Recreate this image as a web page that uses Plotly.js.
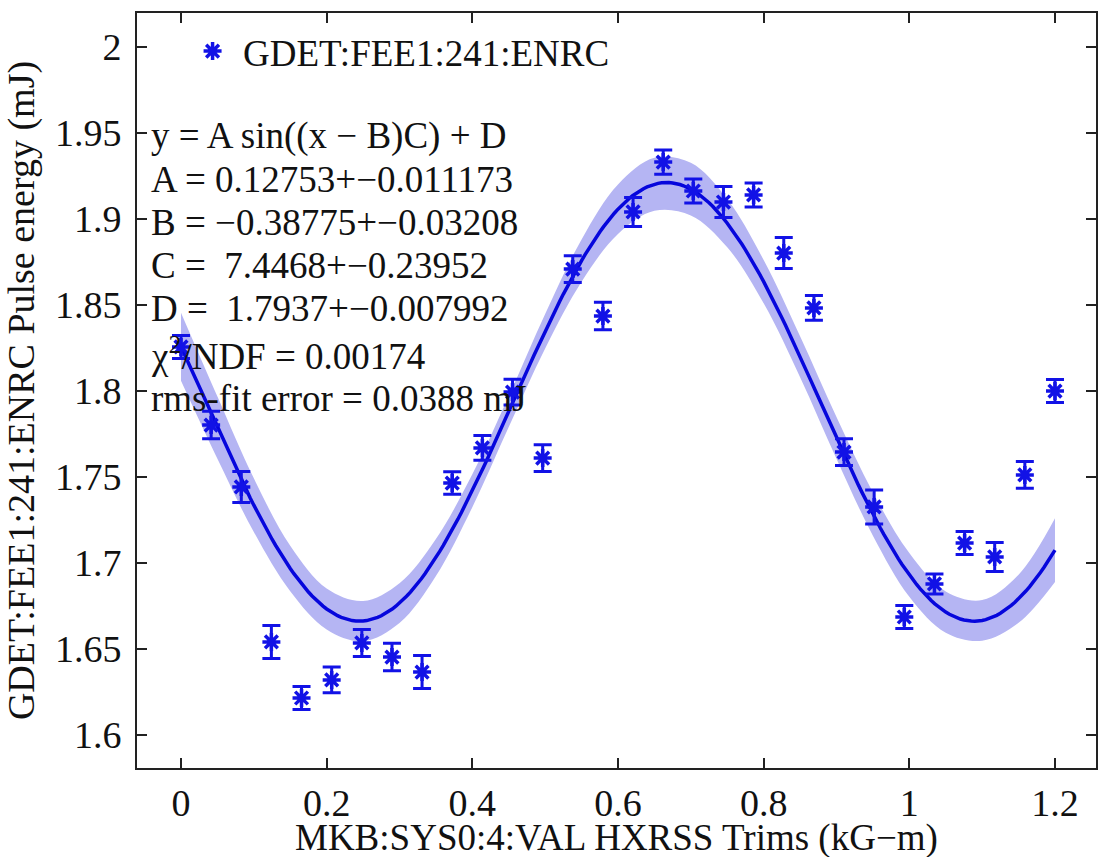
<!DOCTYPE html>
<html>
<head>
<meta charset="utf-8">
<script src="https://cdn.plot.ly/plotly-3.0.1.min.js"></script>
<style>
  html, body { margin: 0; padding: 0; background: #fff; }
  #chart { width: 1098px; height: 857px; }
</style>
</head>
<body>
<div id="chart"></div>
<script>
// HXRSS trim scan: measured pulse energy with error bars
const trimValues = [0, 0.0414, 0.0828, 0.1241, 0.1655, 0.2069, 0.2483, 0.2897, 0.3310, 0.3724,
                    0.4138, 0.4552, 0.4966, 0.5379, 0.5793, 0.6207, 0.6621, 0.7034, 0.7448, 0.7862,
                    0.8276, 0.8690, 0.9103, 0.9517, 0.9931, 1.0345, 1.0759, 1.1172, 1.1586, 1.2];
const pulseEnergy = [1.8256, 1.7802, 1.7442, 1.6541, 1.6215, 1.6320, 1.6535, 1.6453, 1.6366, 1.7465,
                     1.7669, 1.7994, 1.7610, 1.8709, 1.8436, 1.9041, 1.9331, 1.9163, 1.9099, 1.9140,
                     1.8802, 1.8483, 1.7645, 1.7326, 1.6686, 1.6878, 1.7116, 1.7035, 1.7512, 1.8000];
const energyError = [0.0067, 0.0080, 0.0090, 0.0096, 0.0067, 0.0075, 0.0078, 0.0080, 0.0096, 0.0065,
                     0.0072, 0.0075, 0.0078, 0.0078, 0.0080, 0.0084, 0.0070, 0.0070, 0.0090, 0.0070,
                     0.0090, 0.0072, 0.0078, 0.0099, 0.0067, 0.0058, 0.0067, 0.0084, 0.0078, 0.0067];

// Fit parameters y = A sin((x - B)C) + D
const fitA = 0.12753;
const fitB = -0.38775;
const fitC = 7.4468;
const fitD = 1.7937;

// Confidence band half-width along the fit
const bandX = [0, 0.05, 0.1, 0.15, 0.2, 0.25, 0.3, 0.35, 0.4, 0.45, 0.5, 0.55, 0.6,
               0.65, 0.7, 0.75, 0.8, 0.85, 0.9, 0.95, 1.0, 1.05, 1.1, 1.15, 1.2];
const bandHalf = [0.0198, 0.0181, 0.0156, 0.0132, 0.0119, 0.0117, 0.0116, 0.0108, 0.0096, 0.0090,
                  0.0100, 0.0123, 0.0144, 0.0154, 0.0153, 0.0140, 0.0126, 0.0119, 0.0121, 0.0126,
                  0.0127, 0.0120, 0.0118, 0.0140, 0.0185];

const legendName = 'GDET:FEE1:241:ENRC';
const xTitle = 'MKB:SYS0:4:VAL HXRSS Trims (kG\u2212m)';
const yTitle = 'GDET:FEE1:241:ENRC Pulse energy (mJ)';
const fitLines = [
  'y = A sin((x \u2212 B)C) + D',
  'A = 0.12753+\u22120.011173',
  'B = \u22120.38775+\u22120.03208',
  'C =  7.4468+\u22120.23952',
  'D =  1.7937+\u22120.007992',
  '\u03c7<sup>2</sup>/NDF = 0.00174',
  'rms-fit error = 0.0388 mJ'
];

const fitModel = x => fitA * Math.sin((x - fitB) * fitC) + fitD;

const fitX = [];
for (let i = 0; i <= 240; i++) fitX.push(i * 0.005);
const fitY = fitX.map(fitModel);

const bandLow = bandX.map((x, i) => fitModel(x) - bandHalf[i]);
const bandHigh = bandX.map((x, i) => fitModel(x) + bandHalf[i]);

const FONT = 'Liberation Serif, Times New Roman, serif';
const markBlue = '#1212e6';

const traces = [
  { x: bandX, y: bandLow, mode: 'lines', line: { width: 0, shape: 'spline' },
    hoverinfo: 'skip', showlegend: false },
  { x: bandX, y: bandHigh, mode: 'lines', line: { width: 0, shape: 'spline' },
    fill: 'tonexty', fillcolor: '#b5b5f3', hoverinfo: 'skip', showlegend: false },
  { x: fitX, y: fitY, mode: 'lines', line: { color: '#0606dc', width: 3.5 },
    showlegend: false },
  { x: trimValues, y: pulseEnergy, mode: 'markers', name: legendName,
    marker: { symbol: 'asterisk-open', size: 15, color: markBlue,
              line: { color: markBlue, width: 3.5 } },
    error_y: { type: 'data', array: energyError, visible: true,
               color: markBlue, thickness: 3, width: 9 } }
];

// Fit summary, one line per annotation
const lineY = [0.837, 0.779, 0.722, 0.665, 0.608, 0.549, 0.489];
const annotations = fitLines.map((t, i) => ({
  text: t, xref: 'paper', yref: 'paper', x: 0.012, y: lineY[i],
  xanchor: 'left', yanchor: 'middle', showarrow: false,
  font: { family: FONT, size: 37, color: '#111' }
}));

// x-axis title placed just under the tick labels
annotations.push({
  text: xTitle, xref: 'paper', yref: 'paper', x: 0.5, y: -0.093,
  xanchor: 'center', yanchor: 'middle', showarrow: false, borderpad: 0,
  font: { family: FONT, size: 37, color: '#111' }
});

const axisCommon = {
  showline: true, linecolor: '#222', linewidth: 2, mirror: 'ticks',
  ticks: 'inside', ticklen: 10, tickwidth: 2, tickcolor: '#222',
  showgrid: false, zeroline: false,
  tickfont: { family: FONT, size: 38, color: '#111' }
};

const layout = {
  width: 1098, height: 857,
  margin: { l: 137, r: 2, t: 13, b: 89 },
  paper_bgcolor: '#fff', plot_bgcolor: '#fff',
  xaxis: Object.assign({}, axisCommon, {
    range: [-0.0604, 1.2563], tickmode: 'linear', tick0: 0, dtick: 0.2
  }),
  yaxis: Object.assign({}, axisCommon, {
    range: [1.5808, 2.0198], tickmode: 'linear', tick0: 1.6, dtick: 0.05,
    ticklabelstandoff: 6,
    title: { text: yTitle, font: { family: FONT, size: 38, color: '#111' }, standoff: 10 }
  }),
  showlegend: true,
  legend: { x: 0.047, y: 0.99, xanchor: 'left', yanchor: 'top', itemwidth: 51,
            bgcolor: 'rgba(0,0,0,0)',
            font: { family: FONT, size: 37, color: '#111' } },
  annotations: annotations
};

Plotly.newPlot('chart', traces, layout, { displayModeBar: false, staticPlot: true });
</script>
</body>
</html>
